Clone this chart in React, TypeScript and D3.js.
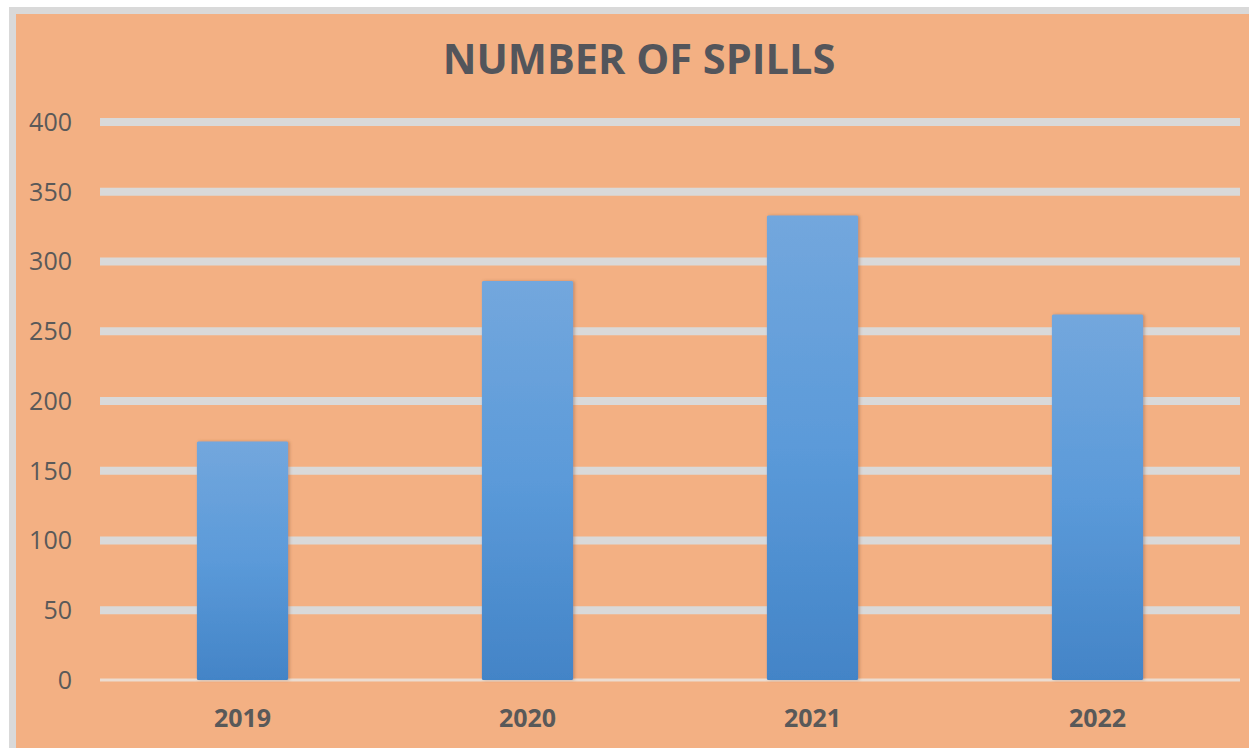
import React from "react";
import * as d3 from "d3";

const categories = ["2019", "2020", "2021", "2022"];
const values = [171, 286, 333, 262];
const yTicks = [0, 50, 100, 150, 200, 250, 300, 350, 400];
const title = "NUMBER OF SPILLS";

const W = 1249;
const H = 748;

export default function App() {
  const plotLeft = 100;
  const plotRight = 1240;
  const y = d3.scaleLinear().domain([0, 400]).range([680, 122]);
  const x = d3
    .scaleBand<string>()
    .domain(categories)
    .range([plotLeft, plotRight])
    .paddingInner(0.68)
    .paddingOuter(0.34);

  return (
    <svg
      width={W}
      height={H}
      style={{ position: "absolute", left: 0, top: 0, display: "block" }}
    >
      <defs>
        <linearGradient id="barGrad" x1="0" y1="0" x2="0" y2="1">
          <stop offset="0%" stopColor="#73a7dd" />
          <stop offset="50%" stopColor="#5b9ad9" />
          <stop offset="100%" stopColor="#4384c7" />
        </linearGradient>
        <filter id="shadow" x="-20%" y="-20%" width="140%" height="140%">
          <feDropShadow dx="1.5" dy="0" stdDeviation="1.5" floodColor="#8a5a3a" floodOpacity="0.45" />
        </filter>
      </defs>
      <rect x={0} y={0} width={W} height={H} fill="#ffffff" />
      <rect x={9} y={7} width={W - 9} height={H - 7} fill="#d9d9d9" />
      <rect x={16} y={14} width={W - 16} height={H - 14} fill="#f3b083" />
      <text
        x={639}
        y={74}
        textAnchor="middle"
        fontFamily="'Open Sans', Lato, sans-serif"
        fontWeight={700}
        fontSize={41.5}
        fill="#53555b"
      >
        {title}
      </text>
      {yTicks.map((t) => (
        <g key={t}>
          {t === 0 ? (
            <rect x={plotLeft} y={y(t) - 1.5} width={plotRight - plotLeft} height={3} fill="#ecdcd0" />
          ) : (
            <rect x={plotLeft} y={y(t) - 4} width={plotRight - plotLeft} height={8} fill="#d9d9d9" />
          )}
          <text
            x={72}
            y={y(t)}
            dy="0.35em"
            textAnchor="end"
            fontFamily="'Open Sans', Lato, sans-serif"
            fontSize={25}
            fill="#595959"
          >
            {t}
          </text>
        </g>
      ))}
      {categories.map((c, i) => (
        <g key={c}>
          <rect
            x={x(c)}
            y={y(values[i])}
            width={x.bandwidth()}
            height={y(0) - y(values[i])}
            rx={1.5}
            fill="url(#barGrad)"
            filter="url(#shadow)"
          />
          <text
            x={(x(c) as number) + x.bandwidth() / 2}
            y={718}
            dy="0.35em"
            textAnchor="middle"
            fontFamily="'Open Sans', Lato, sans-serif"
            fontWeight={700}
            fontSize={25}
            fill="#595959"
          >
            {c}
          </text>
        </g>
      ))}
    </svg>
  );
}
